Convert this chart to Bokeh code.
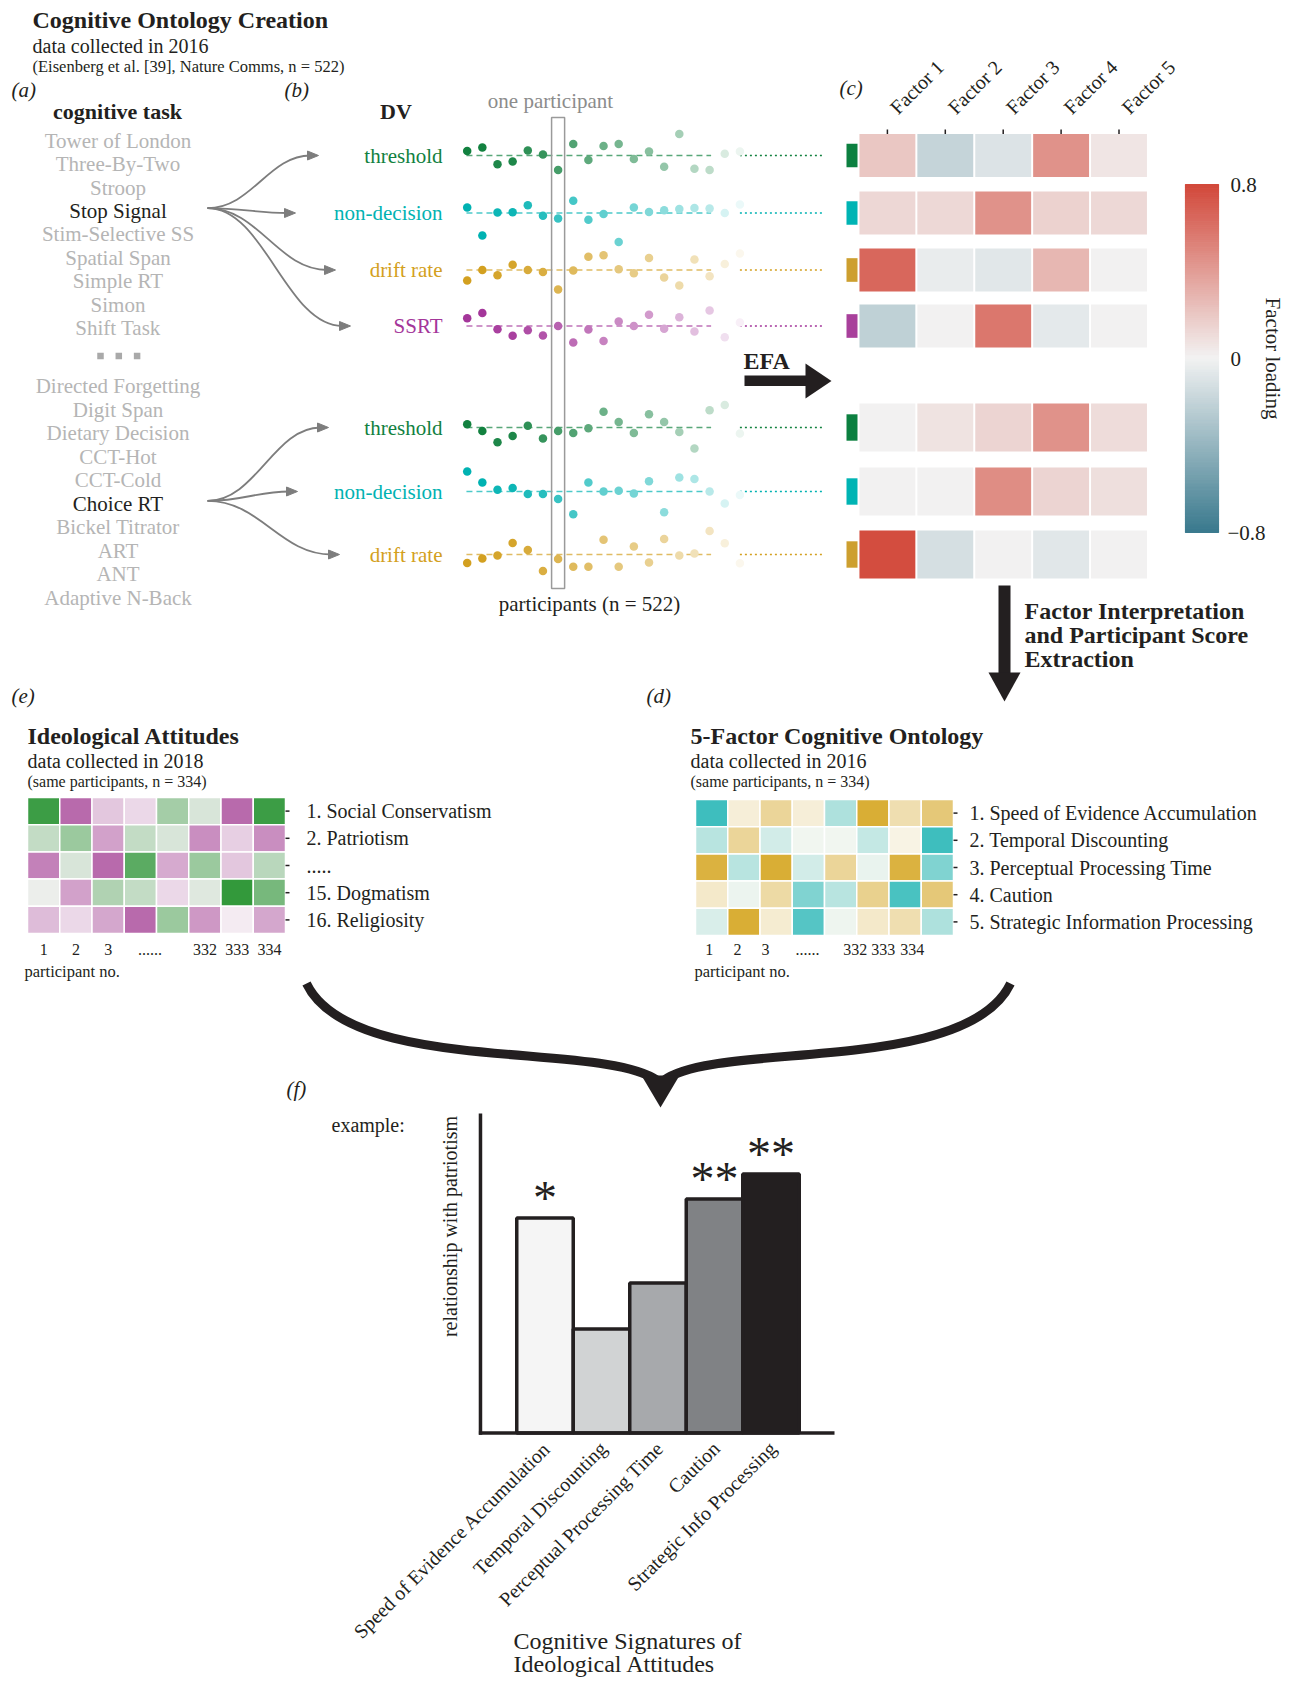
import numpy as np
from bokeh.plotting import figure
from bokeh.models import Range1d, ColumnDataSource, LinearColorMapper
from bokeh.transform import transform
from bokeh.core.properties import value
from bokeh.embed import file_html
from bokeh.resources import INLINE

# ============================ DATA ============================
tasks_upper = ["Tower of London", "Three-By-Two", "Stroop", "Stop Signal", "Stim-Selective SS",
               "Spatial Span", "Simple RT", "Simon", "Shift Task"]
tasks_lower = ["Directed Forgetting", "Digit Span", "Dietary Decision", "CCT-Hot", "CCT-Cold",
               "Choice RT", "Bickel Titrator", "ART", "ANT", "Adaptive N-Back"]
highlighted_tasks = ["Stop Signal", "Choice RT"]

dv_labels = ["threshold", "non-decision", "drift rate", "SSRT", "threshold", "non-decision", "drift rate"]
dv_task = ["Stop Signal", "Stop Signal", "Stop Signal", "Stop Signal", "Choice RT", "Choice RT", "Choice RT"]

# standardised scores of the first shown participants for each DV
stop_threshold = [0.46, 0.81, -0.88, -0.60, 0.49, 0.11, -1.44, 1.16, -0.46, 0.95, 1.16, -0.35, 0.39, -1.12, 2.14, -1.33, -1.44, 0.18, 0.39]
stop_nondecision = [0.56, -2.25, 0.04, 0.07, 0.77, -0.28, -0.56, 1.23, -0.67, -0.11, -2.91, 0.56, 0.11, 0.28, 0.39, 0.49, 0.46, 0.00, 0.84]
stop_drift = [-1.05, 0.00, -0.53, 0.53, 0.00, -0.21, -1.96, -0.04, 1.33, 1.47, 0.07, -0.32, 1.19, -0.74, -1.54, 1.05, -0.63, 0.60, 1.65]
stop_ssrt = [0.77, 1.30, -0.32, -0.98, -0.42, -0.95, 0.00, -1.65, -0.35, -1.51, 0.46, 0.00, 1.12, -0.28, 0.88, -0.56, 1.54, -1.12, 0.35]
choice_threshold = [0.32, -0.35, -1.47, -0.84, 0.18, -1.09, -0.35, -0.56, -0.07, 1.58, 0.56, -0.56, 1.33, 0.56, -0.46, -2.11, 1.72, 2.25, -0.60]
choice_nondecision = [2.00, 0.91, 0.18, 0.35, -0.25, -0.25, -0.74, -2.28, 0.91, 0.00, 0.07, -0.21, 1.02, -2.07, 1.40, 1.26, 0.00, -1.19, -0.35]
choice_drift = [-0.84, -0.39, -0.11, 1.16, 0.46, -1.65, -0.46, -1.23, -1.23, 1.47, -1.23, 0.81, -0.81, 1.54, -0.11, 0.11, 2.35, 1.12, -0.88]

factor_names = ["Factor 1", "Factor 2", "Factor 3", "Factor 4", "Factor 5"]
loading_stop_threshold = [0.20, -0.20, -0.10, 0.45, 0.06]
loading_stop_nondecision = [0.13, 0.12, 0.45, 0.15, 0.12]
loading_stop_drift = [0.65, -0.04, -0.07, 0.28, 0.00]
loading_stop_ssrt = [-0.22, 0.00, 0.58, -0.06, 0.00]
loading_choice_threshold = [0.00, 0.07, 0.14, 0.45, 0.10]
loading_choice_nondecision = [0.00, 0.00, 0.48, 0.14, 0.09]
loading_choice_drift = [0.78, -0.13, 0.00, -0.07, 0.00]
colorbar_ticks = [0.8, 0.0, -0.8]
colorbar_tick_labels = ["0.8", "0", "\u22120.8"]

ideology_items = ["1. Social Conservatism", "2. Patriotism", ".....", "15. Dogmatism", "16. Religiosity"]
ideology_scores = [
    [0.90, -0.75, -0.25, -0.15, 0.40, 0.15, -0.75, 0.90],
    [0.25, 0.45, -0.45, 0.25, 0.15, -0.55, -0.20, -0.55],
    [-0.62, 0.15, -0.75, 0.75, -0.40, 0.45, -0.25, 0.30],
    [0.06, -0.45, 0.35, 0.25, -0.15, 0.12, 0.95, 0.62],
    [-0.30, -0.15, -0.42, -0.75, 0.45, -0.50, -0.05, -0.42],
]
ontology_items = ["1. Speed of Evidence Accumulation", "2. Temporal Discounting",
                  "3. Perceptual Processing Time", "4. Caution", "5. Strategic Information Processing"]
ontology_scores = [
    [-0.85, 0.12, 0.40, 0.12, -0.35, 0.85, 0.30, 0.55],
    [-0.30, 0.40, -0.18, -0.04, -0.04, -0.25, 0.07, -0.85],
    [0.80, -0.30, 0.85, -0.18, 0.40, -0.08, 0.80, -0.55],
    [0.18, -0.07, 0.35, -0.55, -0.30, 0.45, -0.80, 0.55],
    [-0.15, 0.85, 0.15, -0.75, -0.06, 0.18, 0.30, -0.35],
]
participant_ticks = ["1", "2", "3", "......", "332", "333", "334"]

signature_names = ["Speed of Evidence Accumulation", "Temporal Discounting",
                   "Perceptual Processing Time", "Caution", "Strategic Info Processing"]
patriotism_relationship = [0.215, 0.104, 0.150, 0.234, 0.259]
significance = ["*", "", "", "**", "**"]

# ============================ STYLE / LAYOUT ============================
INK = "#231f20"
GREY = "#b5b5b5"
SERIF = value("Liberation Serif")
KIND_COLOR = {"threshold": "#12813f", "non-decision": "#00b2b2", "drift rate": "#d3a020", "SSRT": "#a4369a"}
SQUARE_COLOR = {"threshold": "#0c8040", "non-decision": "#00b4b4", "drift rate": "#cd9f2f", "SSRT": "#a8409b"}
DOT_FADE = [0.0, 0.0, 0.05, 0.05, 0.12, 0.15, 0.22, 0.27, 0.32, 0.38, 0.42, 0.46, 0.5, 0.55, 0.62, 0.68, 0.72, 0.84, 0.92]
BAR_FILL = ["#f5f5f5", "#d1d3d4", "#a7a9ac", "#808285", "#231f20"]

W, H = 1283, 1678
OX, OY = 0, 0  # canvas top-left in reference pixels


def mix(c, t, target=(255, 255, 255)):
    rgb = [int(c[i:i + 2], 16) for i in (1, 3, 5)]
    return "#%02x%02x%02x" % tuple(int(round(a + (b - a) * t)) for a, b in zip(rgb, target))


def ramp(stops, n=256):
    rgb = np.array([[int(c[i:i + 2], 16) for i in (1, 3, 5)] for c in stops], float)
    t = np.linspace(0, 1, n)
    pos = np.linspace(0, 1, len(stops))
    out = np.stack([np.interp(t, pos, rgb[:, k]) for k in range(3)], 1)
    return ["#%02x%02x%02x" % tuple(int(round(v)) for v in row) for row in out]


loading_mapper = LinearColorMapper(palette=ramp(["#3b7a8e", "#f2f2f2", "#d2493b"]), low=-0.8, high=0.8)
ideology_mapper = LinearColorMapper(palette=ramp(["#a33c93", "#f8f4f7", "#299432"]), low=-1, high=1)
ontology_mapper = LinearColorMapper(palette=ramp(["#1db4b5", "#fbf9f3", "#d3a114"]), low=-1, high=1)

p = figure(width=W, height=H, x_range=Range1d(OX, OX + W), y_range=Range1d(OY + H, OY),
           output_backend="svg", toolbar_location=None, x_axis_location=None, y_axis_location=None,
           min_border=0, title=None)
p.xgrid.visible = False
p.ygrid.visible = False
p.outline_line_color = None
p.background_fill_color = "white"
p.border_fill_color = "white"

extra_x, extra_y = {}, {}


def x_map(name, px_at_zero, px_per_unit):
    extra_x[name] = Range1d((OX - px_at_zero) / px_per_unit, (OX + W - px_at_zero) / px_per_unit)


def y_map(name, px_at_zero, px_per_unit):
    extra_y[name] = Range1d((px_at_zero - (OY + H)) / px_per_unit, (px_at_zero - OY) / px_per_unit)


def put_text(xs, ys, texts, size, color=INK, align="left", baseline="middle", style="normal",
             angle=0.0, xr="default", yr="default"):
    p.text(x=xs, y=ys, text=texts, text_font=SERIF, text_font_size=value(f"{size}px"),
           text_color=color, text_align=align, text_baseline=baseline, text_font_style=style,
           angle=angle, x_range_name=xr, y_range_name=yr)


# ---------------- header ----------------
put_text([32], [19.5], ["Cognitive Ontology Creation"], 24, style="bold")
put_text([32], [45.5], ["data collected in 2016"], 20)
put_text([32], [65.5], ["(Eisenberg et al. [39], Nature Comms, n = 522)"], 16.5)
put_text([11, 284, 839], [89, 89, 87.5], ["(a)", "(b)", "(c)"], 21, style="italic")

# ---------------- (a) tasks ----------------
put_text([117], [111], ["cognitive task"], 22, align="center", style="bold")
upper_y = [140.5 + 23.37 * i for i in range(len(tasks_upper))]
lower_y = [385.7 + 23.53 * i for i in range(len(tasks_lower))]
all_tasks = tasks_upper + tasks_lower
all_task_y = upper_y + lower_y
put_text([117.5] * len(all_tasks), all_task_y, all_tasks, 21,
         color=[INK if t in highlighted_tasks else GREY for t in all_tasks], align="center")
p.rect(x=[100, 118.3, 136.6], y=[355.6] * 3, width=6.5, height=6.5, fill_color="#a9a9a9", line_color=None)

# ---------------- (b) DVs ----------------
row_y = [155, 212.5, 269.5, 325.5, 427, 491, 554]
put_text([395.5], [111], ["DV"], 22, align="center", style="bold")
put_text([442] * 7, row_y, dv_labels, 21, color=[KIND_COLOR[k] for k in dv_labels], align="right")

arrow_end_x = [318, 295, 335, 350, 328, 297, 339]
task_pos = dict(zip(all_tasks, all_task_y))
for k in range(7):
    sx, sy = 207.0, task_pos[dv_task[k]] - 3
    ex, ey = arrow_end_x[k], row_y[k]
    dx = ex - sx
    p.bezier(x0=[sx], y0=[sy], x1=[ex - 8], y1=[ey], cx0=[sx + 0.4 * dx], cy0=[sy],
             cx1=[ex - 0.45 * dx], cy1=[ey], line_color="#7d7d7d", line_width=1.8)
    p.patch(x=[ex - 11, ex, ex - 11], y=[ey - 4.5, ey, ey + 4.5], fill_color="#7d7d7d", line_color="#7d7d7d")

put_text([550], [100], ["one participant"], 21, color="#8c8c8c", align="center")
put_text([589], [603], ["participants (n = 522)"], 21, align="center")

dv_series = [stop_threshold, stop_nondecision, stop_drift, stop_ssrt,
             choice_threshold, choice_nondecision, choice_drift]
x_map("participant", 466.7, 15.15)
for k, series in enumerate(dv_series):
    name = f"dv{k}"
    y_map(name, row_y[k], 10.0)
    base = KIND_COLOR[dv_labels[k]]
    p.segment(x0=[-0.05], y0=[0], x1=[16.1], y1=[0], x_range_name="participant", y_range_name=name,
              line_color=mix(base, 0.3), line_width=1.6, line_dash="6 4")
    p.segment(x0=[18.0], y0=[0], x1=[23.6], y1=[0], x_range_name="participant", y_range_name=name,
              line_color=base, line_width=1.6, line_dash="2 3")
    p.scatter(x=list(range(len(series))), y=series, size=8.5, line_color=None,
              fill_color=[mix(base, f) for f in DOT_FADE],
              x_range_name="participant", y_range_name=name)
p.rect(x=[6], y=[352.5], width=0.86, height=471, fill_color=None, line_color="#9a9a9a",
       line_width=1.5, x_range_name="participant")

# ---------------- (c) loadings ----------------
loadings = [loading_stop_threshold, loading_stop_nondecision, loading_stop_drift, loading_stop_ssrt,
            loading_choice_threshold, loading_choice_nondecision, loading_choice_drift]
row_h = [43, 43, 43, 43, 48, 48, 48]
x_map("factor", 886.9, 57.9)
cx, cy, cv, ch = [], [], [], []
for r, row in enumerate(loadings):
    for c, v in enumerate(row):
        cx.append(c); cy.append(row_y[r]); cv.append(v); ch.append(row_h[r])
p.rect(x="x", y="y", width=1 - 2 / 57.9, height="h",
       source=ColumnDataSource(dict(x=cx, y=cy, v=cv, h=ch)),
       fill_color=transform("v", loading_mapper), line_color=None, x_range_name="factor")
p.rect(x=[851.5] * 7, y=row_y, width=11, height=[h * 0.55 for h in row_h],
       fill_color=[SQUARE_COLOR[k] for k in dv_labels], line_color=None)
p.segment(x0=list(range(5)), y0=[129] * 5, x1=list(range(5)), y1=[133.5] * 5,
          line_color=INK, line_width=1.5, x_range_name="factor")
put_text([i + 6 / 57.9 for i in range(5)], [110] * 5, factor_names, 20, angle=np.pi / 4, xr="factor")

# colour bar (gradient of the loading colour scale)
cb_vals = np.linspace(0.8, -0.8, 161)
cb_top, cb_bot = 184.0, 532.0
step = (cb_bot - cb_top) / len(cb_vals)
cb_src = ColumnDataSource(dict(top=[cb_top + i * step for i in range(len(cb_vals))],
                               bottom=[cb_top + (i + 1) * step for i in range(len(cb_vals))],
                               v=list(cb_vals)))
p.quad(left=1185, right=1218, top="top", bottom="bottom", source=cb_src,
       fill_color=transform("v", loading_mapper), line_color=transform("v", loading_mapper),
       line_width=1.2)
cb_tick_y = [cb_top + (0.8 - t) / 1.6 * (cb_bot - cb_top) for t in colorbar_ticks]
put_text([1230, 1230, 1227], cb_tick_y, colorbar_tick_labels, 21)
put_text([1272], [358], ["Factor loading"], 21, align="center", angle=-np.pi / 2)

# EFA arrow
put_text([743], [360], ["EFA"], 24, style="bold")
p.quad(left=744, right=806, top=375, bottom=385.5, fill_color=INK, line_color=None)
p.patch(x=[805, 805, 831], y=[363, 398, 380.5], fill_color=INK, line_color=None)

# down arrow
p.quad(left=998, right=1010, top=585, bottom=673, fill_color=INK, line_color=None)
p.patch(x=[988, 1020, 1004], y=[672, 672, 701], fill_color=INK, line_color=None)
put_text([1024] * 3, [610, 634, 658],
         ["Factor Interpretation", "and Participant Score", "Extraction"], 24, style="bold")

# ---------------- (e) & (d) heatmaps ----------------
put_text([11, 646], [695, 695], ["(e)", "(d)"], 21, style="italic")
put_text([27, 690], [735, 735], ["Ideological Attitudes", "5-Factor Cognitive Ontology"], 24, style="bold")
put_text([27, 690], [760, 760], ["data collected in 2018", "data collected in 2016"], 20)
put_text([27, 690], [781, 781], ["(same participants, n = 334)", "(same participants, n = 334)"], 16)


def heat(name, scores, items, mapper, x0, y0, cw, chh, tick_x, label_x, tick_pos):
    x_map(name + "_x", x0 + cw / 2, cw)
    y_map(name + "_y", y0 + chh / 2, -chh)
    xs, ys, vs = [], [], []
    for r, row in enumerate(scores):
        for c, v in enumerate(row):
            xs.append(c); ys.append(r); vs.append(v)
    p.rect(x="x", y="y", width=1, height=1, source=ColumnDataSource(dict(x=xs, y=ys, v=vs)),
           fill_color=transform("v", mapper), line_color="white", line_width=1.5,
           x_range_name=name + "_x", y_range_name=name + "_y")
    n = len(items)
    p.segment(x0=[tick_x] * n, y0=list(range(n)), x1=[tick_x + 4] * n, y1=list(range(n)),
              line_color=INK, line_width=1.5, y_range_name=name + "_y")
    put_text([label_x] * n, list(range(n)), items, 20, yr=name + "_y")
    put_text(tick_pos, [949] * len(participant_ticks), participant_ticks, 16, align="center",
             xr=name + "_x")


heat("ideo", ideology_scores, ideology_items, ideology_mapper, 27, 797, 32.25, 27.2, 285, 306,
     [0, 1, 2, 3.3, 5, 6, 7])
heat("onto", ontology_scores, ontology_items, ontology_mapper, 695, 799, 32.25, 27.2, 953, 969,
     [-0.07, 0.8, 1.67, 2.97, 4.45, 5.32, 6.22])
put_text([24, 694], [971, 971], ["participant no.", "participant no."], 16.5)

# big converging arrows
p.bezier(x0=[306, 1010], y0=[983, 983], x1=[657, 663], y1=[1080, 1080],
         cx0=[350, 966], cy0=[1075, 1075], cx1=[600, 716], cy1=[1040, 1040],
         line_color=INK, line_width=9)
p.patch(x=[641, 679, 660], y=[1075, 1075, 1107], fill_color=INK, line_color=None)

# ---------------- (f) bar chart ----------------
put_text([286], [1088], ["(f)"], 21, style="italic")
put_text([331], [1124], ["example:"], 20)
x_map("sig", 544.5, 56.5)
y_map("rel", 1432.6, 1000.0)
idx = list(range(len(signature_names)))
p.vbar(x=idx, top=patriotism_relationship, bottom=0, width=1, fill_color=BAR_FILL,
       line_color=INK, line_width=3.5, x_range_name="sig", y_range_name="rel")
p.segment(x0=[-1.142, -1.17], y0=[-0.0017, 0], x1=[-1.142, 5.124], y1=[0.3196, 0],
          line_color=INK, line_width=3.5, x_range_name="sig", y_range_name="rel")
put_text(idx, [v + 0.021 for v in patriotism_relationship], significance, 48, align="center",
         xr="sig", yr="rel")
put_text([i + 0.03 for i in idx], [-0.012] * len(idx), signature_names, 20, align="right",
         angle=np.pi / 4, xr="sig", yr="rel")
put_text([449.5], [1226], ["relationship with patriotism"], 20, align="center", angle=np.pi / 2)
put_text([513, 513], [1640, 1663], ["Cognitive Signatures of", "Ideological Attitudes"], 24)

p.extra_x_ranges = extra_x
p.extra_y_ranges = extra_y

open("out.html", "w").write(file_html(p, INLINE))
